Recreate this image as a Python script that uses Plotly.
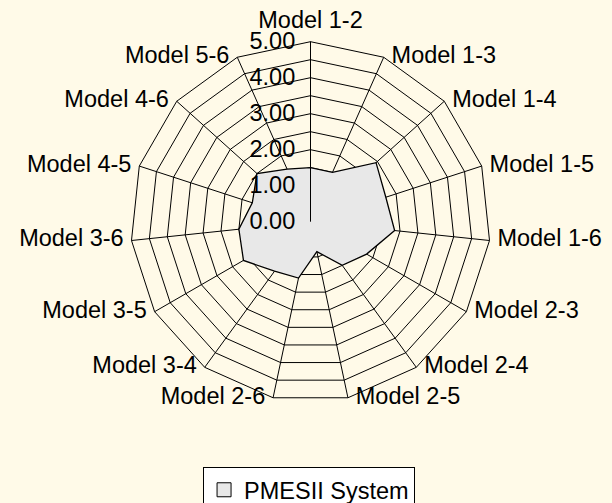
import plotly.graph_objects as go

categories = ["Model 1-2", "Model 1-3", "Model 1-4", "Model 1-5", "Model 1-6",
              "Model 2-3", "Model 2-4", "Model 2-5", "Model 2-6", "Model 3-4",
              "Model 3-5", "Model 3-6", "Model 4-5", "Model 4-6", "Model 5-6"]
values = [1.5, 1.5, 2.45, 2.2, 2.35, 1.8, 1.5, 0.85, 1.6, 1.7, 2.15, 2.0, 1.7, 2.0, 1.6]
series_name = "PMESII System"
radial_max = 5
radial_ticks = [0, 0.5, 1, 1.5, 2, 2.5, 3, 3.5, 4, 4.5, 5]
radial_ticktext = ["0.00", "", "1.00", "", "2.00", "", "3.00", "", "4.00", "", "5.00"]

bg = "rgb(255,250,232)"
fill = "#E8E8E8"
font = "Liberation Sans, Arial, sans-serif"
fs = 23.5
pad = "\u00a0"

# category label placement (Excel style: beside each outer vertex)
n = len(categories)
label_pos = []
for i in range(n):
    if i == 0:
        label_pos.append("top center")
    elif i <= (n - 1) // 2:
        label_pos.append("middle right")
    else:
        label_pos.append("middle left")

fig = go.Figure()
fig.add_trace(go.Scatterpolar(
    r=values + values[:1],
    theta=categories + categories[:1],
    mode="lines",
    fill="toself",
    fillcolor=fill,
    line=dict(color="black", width=1.3),
    name=series_name,
    showlegend=False,
))
# category labels at the outer ring
fig.add_trace(go.Scatterpolar(
    r=[radial_max] * n,
    theta=categories,
    mode="markers+text",
    text=categories,
    textposition=label_pos,
    textfont=dict(size=fs, color="black", family=font),
    marker=dict(size=11, color="rgba(0,0,0,0)"),
    cliponaxis=False,
    hoverinfo="skip",
    showlegend=False,
))
# legend entry: filled square swatch
fig.add_trace(go.Scatterpolar(
    r=[None], theta=[categories[0]],
    mode="markers",
    marker=dict(symbol="square", size=14, color=fill, line=dict(color="black", width=1)),
    name=series_name,
    showlegend=True,
))

cx, cy, R = 310.5, 221.7, 180
W, H = 612, 503
fig.update_layout(
    width=W, height=H,
    margin=dict(l=0, r=0, t=0, b=0, autoexpand=False),
    paper_bgcolor=bg,
    font=dict(family=font, size=fs, color="black"),
    polar=dict(
        domain=dict(x=[(cx - R) / W, (cx + R) / W],
                    y=[(H - cy - R) / H, (H - cy + R) / H]),
        bgcolor=bg,
        gridshape="linear",
        angularaxis=dict(
            direction="clockwise", rotation=90,
            showline=True, linecolor="black", linewidth=1,
            gridcolor="black", gridwidth=1,
            ticks="", showticklabels=False,
        ),
        radialaxis=dict(
            range=[0, radial_max], angle=90, tickangle=90,
            tickvals=radial_ticks, ticktext=[t + pad if t else t for t in radial_ticktext],
            showline=True, linecolor="black", linewidth=1,
            gridcolor="black", gridwidth=1,
            ticks="", tickfont=dict(size=fs),
            side="counterclockwise",
        ),
    ),
    legend=dict(
        x=0.505, xanchor="center", y=(H - 467) / H, yanchor="top",
        bgcolor="white", bordercolor="black", borderwidth=1,
        font=dict(size=fs), orientation="h",
        itemwidth=30,
    ),
)

fig.write_html("out.html", config={"displayModeBar": False},
               post_script="document.body.style.margin='0';")
